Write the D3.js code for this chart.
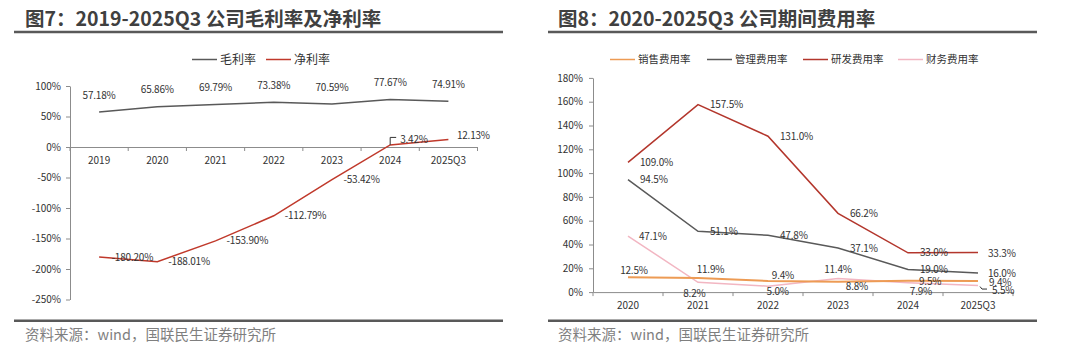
<!DOCTYPE html>
<html><head><meta charset="utf-8">
<script src="https://cdn.jsdelivr.net/npm/d3@7"></script>
<style>
html,body{margin:0;padding:0;background:#fff;}
svg{display:block;font-family:"Noto Sans CJK SC","Noto Sans",sans-serif;}
</style></head>
<body><svg id="c" width="1080" height="356"></svg>
<script>
// ---------- data ----------
const years1 = ["2019","2020","2021","2022","2023","2024","2025Q3"];
const grossMargin = [57.18,65.86,69.79,73.38,70.59,77.67,74.91];
const netMargin = [-180.20,-188.01,-153.90,-112.79,-53.42,3.42,12.13];
const yTicks1 = [100,50,0,-50,-100,-150,-200,-250];

const years2 = ["2020","2021","2022","2023","2024","2025Q3"];
const salesRate = [12.5,11.9,9.4,8.8,9.5,9.4];
const adminRate = [94.5,51.1,47.8,37.1,19.0,16.0];
const rdRate = [109.0,157.5,131.0,66.2,33.0,33.3];
const finRate = [47.1,8.2,5.0,11.4,7.9,5.5];
const yTicks2 = [0,20,40,60,80,100,120,140,160,180];

const title1 = "图7：2019-2025Q3 公司毛利率及净利率";
const title2 = "图8：2020-2025Q3 公司期间费用率";
const source = "资料来源：wind，国联民生证券研究所";

// ---------- styles ----------
const C = {gross:"#595959", net:"#c0392b", sales:"#ed9b54", admin:"#595959", rd:"#b3362c", fin:"#f2b6c2",
           axis:"#8c8c8c", text:"#333", title:"#404040", rule:"#595959", src:"#7f7f7f"};
const LFS = 10, LLS = -0.2; // data label font size / letter spacing

const svg = d3.select("#c");

function header(x0, x1, tx, title){
  svg.append("text").attr("x",tx).attr("y",26).attr("font-size",19.5).attr("font-weight","bold")
     .attr("fill",C.title).text(title);
  svg.append("line").attr("x1",x0).attr("x2",x1).attr("y1",32).attr("y2",32)
     .attr("stroke",C.rule).attr("stroke-width",2.5);
  svg.append("line").attr("x1",x0).attr("x2",x1).attr("y1",320.7).attr("y2",320.7)
     .attr("stroke",C.rule).attr("stroke-width",2.5);
  svg.append("text").attr("x",tx).attr("y",340).attr("font-size",14.5)
     .attr("fill",C.src).text(source);
}
function legend(items, y, fs){
  items.forEach(it=>{
    svg.append("line").attr("x1",it.x).attr("x2",it.x+25).attr("y1",y).attr("y2",y)
       .attr("stroke",it.c).attr("stroke-width",1.5);
    svg.append("text").attr("x",it.x+28).attr("y",y).attr("dy","0.36em").attr("font-size",fs)
       .attr("fill",C.text).text(it.t);
  });
}
function yAxis(g, scale, ticks, x, lx){
  const ax = g.append("g").attr("transform",`translate(${x},0)`)
    .call(d3.axisLeft(scale).tickValues(ticks).tickFormat(d=>d+"%").tickSize(4).tickSizeOuter(0));
  ax.select(".domain").attr("stroke",C.axis);
  ax.selectAll(".tick line").attr("stroke",C.axis);
  ax.selectAll(".tick text").attr("font-size",10).attr("fill",C.text).attr("x",lx)
    .attr("font-family",'"Noto Sans CJK SC",sans-serif');
}
function xAxis(g, scale, y, labelY){
  const ax = g.append("g").attr("transform",`translate(0,${y})`)
    .call(d3.axisBottom(scale).tickSize(0).tickSizeOuter(0));
  ax.select(".domain").attr("stroke",C.axis);
  ax.selectAll(".tick text").attr("font-size",10).attr("fill",C.text).attr("y",labelY-y).attr("dy","0.36em")
    .attr("font-family",'"Noto Sans CJK SC",sans-serif');
  const bounds = scale.domain().map(d=>scale(d)).concat([scale.range()[1]]);
  g.selectAll(null).data(bounds).enter().append("line")
    .attr("x1",d=>d).attr("x2",d=>d).attr("y1",y).attr("y2",y+4).attr("stroke",C.axis);
}
function label(g, x, y, anchor, txt){
  g.append("text").attr("x",x).attr("y",y).attr("dy","0.36em").attr("text-anchor",anchor)
   .attr("font-size",LFS).attr("letter-spacing",LLS).attr("fill",C.text).text(txt);
}

// ================= Chart 1 =================
header(14, 503, 25, title1);
legend([{x:192,c:C.gross,t:"毛利率"},{x:266,c:C.net,t:"净利率"}], 59.5, 12);
const g1 = svg.append("g");
const x1 = d3.scaleBand().domain(years1).range([70,477.5]);
const y1 = d3.scaleLinear().domain([-250,100]).range([299.5,86]);
const cx1 = d => x1(d) + x1.bandwidth()/2;
yAxis(g1, y1, yTicks1, 70, -9);
xAxis(g1, x1, y1(0), 160.5);

const line1 = d3.line().x(d=>cx1(d.k)).y(d=>y1(d.v));
const grossPts = years1.map((k,i)=>({k, v:grossMargin[i]}));
const netPts = years1.map((k,i)=>({k, v:netMargin[i]}));
g1.append("path").attr("d",line1(grossPts)).attr("fill","none").attr("stroke",C.gross).attr("stroke-width",1.5);
g1.append("path").attr("d",line1(netPts)).attr("fill","none").attr("stroke",C.net).attr("stroke-width",1.5);

grossPts.forEach(d=>label(g1, cx1(d.k), y1(d.v)-17, "middle", d.v.toFixed(2)+"%"));
// net margin labels: right of point
const netPos = [[12.5,0],[11,0],[11,0],[11,0],[11.5,0],[10,-6],[8.5,-4]];
netPts.forEach((d,i)=>label(g1, cx1(d.k)+netPos[i][0], y1(d.v)+netPos[i][1], "start", d.v.toFixed(2)+"%"));
{ // leader for 2024
  const px = cx1(years1[5]), py = y1(netMargin[5]);
  g1.append("path").attr("d",`M${px},${py}V${py-7.5}H${px+6}`).attr("fill","none").attr("stroke","#333").attr("stroke-width",1);
}

// ================= Chart 2 =================
header(548, 1037, 558, title2);
legend([{x:610,c:C.sales,t:"销售费用率"},{x:707,c:C.admin,t:"管理费用率"},{x:803,c:C.rd,t:"研发费用率"},{x:898,c:C.fin,t:"财务费用率"}], 59.5, 10.5);
const g2 = svg.append("g");
const x2 = d3.scaleBand().domain(years2).range([593,1013]);
const y2 = d3.scaleLinear().domain([0,180]).range([292.1,77.9]);
const cx2 = d => x2(d) + x2.bandwidth()/2;
yAxis(g2, y2, yTicks2, 593, -10);

const series2 = [
  {vals:finRate, c:C.fin, w:1.5},
  {vals:salesRate, c:C.sales, w:2},
  {vals:adminRate, c:C.admin, w:1.5},
  {vals:rdRate, c:C.rd, w:1.5},
];
const line2 = d3.line().x(d=>cx2(d.k)).y(d=>y2(d.v));
series2.forEach(s=>{
  g2.append("path").attr("d",line2(years2.map((k,i)=>({k,v:s.vals[i]}))))
    .attr("fill","none").attr("stroke",s.c).attr("stroke-width",s.w);
});
xAxis(g2, x2, y2(0), 305.7);

// label placement (dx, dy, anchor) relative to each point
const rightPos = [[12,0,"start"],[12,0,"start"],[12,0,"start"],[12,0,"start"],[12,0,"start"],[10,0.5,"start"]];
const salesPos = [[6,-6.5,"middle"],[12.5,-9,"middle"],[15,-6,"middle"],[19,4.4,"middle"],[11,0.3,"start"],[11,1,"start"]];
const finPos = [[11,0,"start"],[-3.6,11,"middle"],[9.7,5,"middle"],[0,-9,"middle"],[13,9,"middle"],[14,4.5,"start"]];
[{vals:rdRate,pos:rightPos},{vals:adminRate,pos:rightPos},{vals:salesRate,pos:salesPos},{vals:finRate,pos:finPos}]
  .forEach(s=>years2.forEach((k,i)=>label(g2, cx2(k)+s.pos[i][0], y2(s.vals[i])+s.pos[i][1], s.pos[i][2], s.vals[i].toFixed(1)+"%")));
{ // leader for 2025Q3 financial
  const px = cx2(years2[5]), py = y2(finRate[5]);
  g2.append("path").attr("d",`M${px+2},${py+1}L${px+4},${py+3.5}H${px+9}`).attr("fill","none").attr("stroke","#333").attr("stroke-width",1);
}
</script></body></html>
